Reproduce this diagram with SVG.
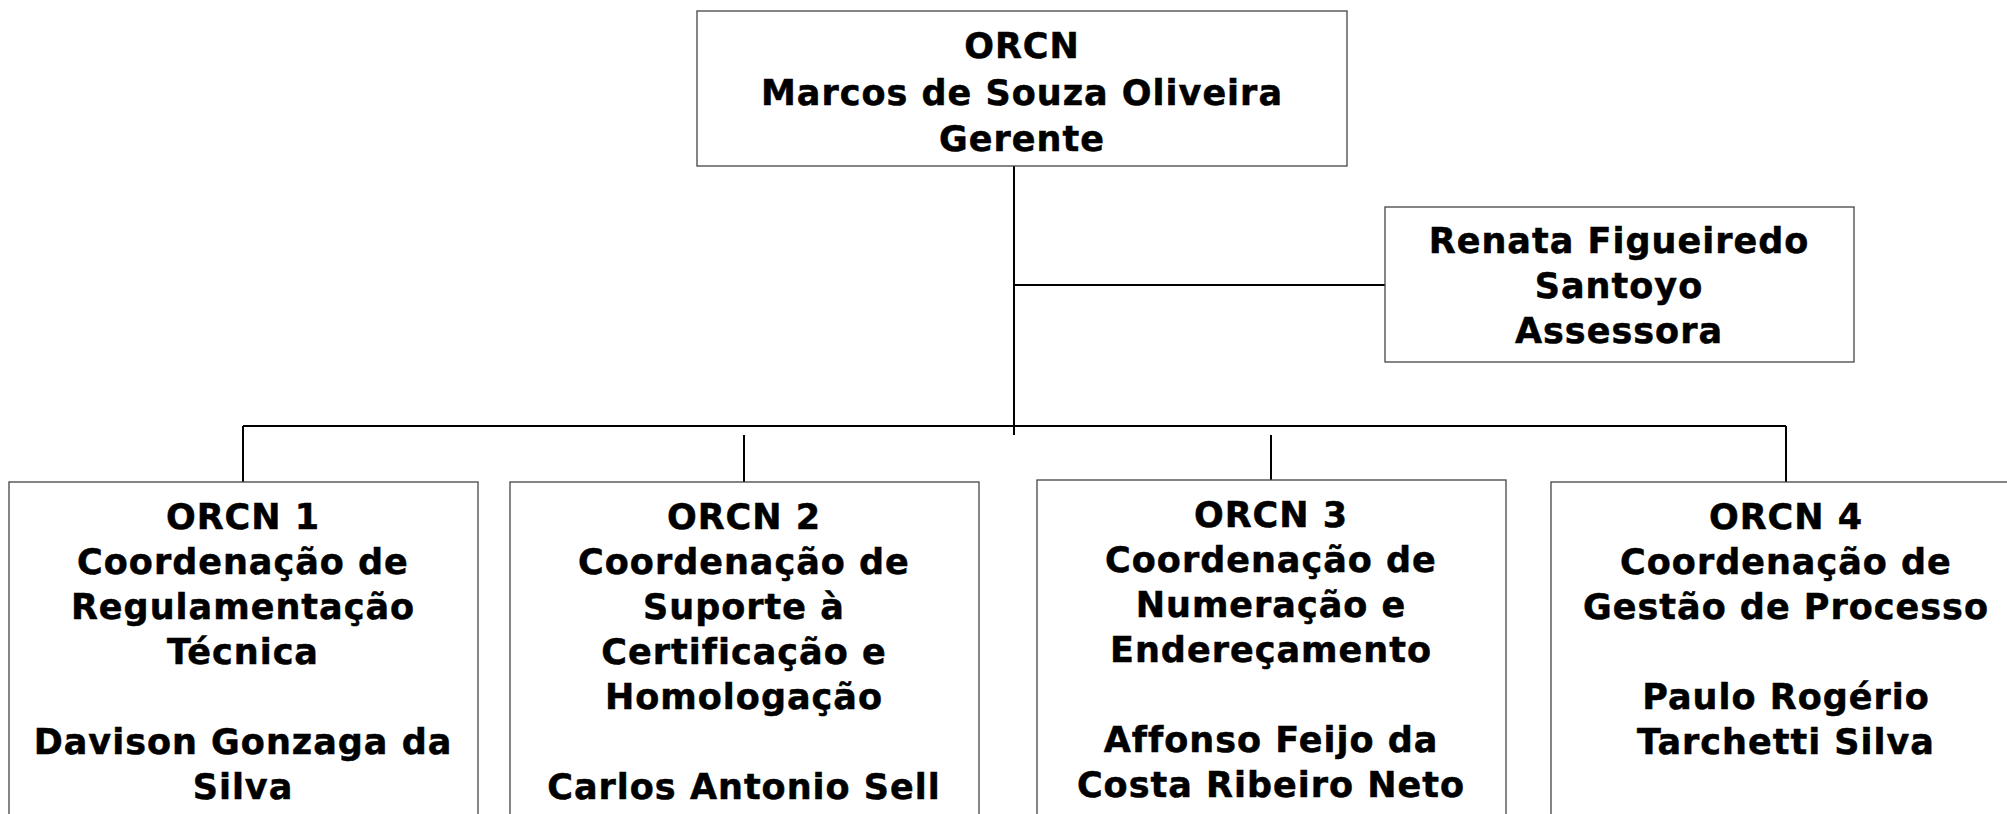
<svg xmlns="http://www.w3.org/2000/svg" width="2007" height="814" viewBox="0 0 2007 814">
<style>
.box{fill:#fff;stroke:#444;stroke-width:1.3}
.t{font-family:"DejaVu Sans",Verdana,sans-serif;font-weight:bold;font-size:35px;letter-spacing:1px;text-anchor:middle;fill:#000;stroke:#000;stroke-width:0.5}
.c{stroke:#000;stroke-width:2;fill:none}
</style>
<rect width="2007" height="814" fill="#fff"/>
<g id="connectors">
<line class="c" x1="1014" y1="166" x2="1014" y2="435"/>
<line class="c" x1="1014" y1="285" x2="1385" y2="285"/>
<line class="c" x1="243" y1="426" x2="1786" y2="426"/>
<line class="c" x1="243" y1="426" x2="243" y2="482"/>
<line class="c" x1="744" y1="435" x2="744" y2="482"/>
<line class="c" x1="1271" y1="435" x2="1271" y2="480"/>
<line class="c" x1="1786" y1="426" x2="1786" y2="482"/>
</g>
<g id="orcn">
<rect class="box" x="697" y="11" width="650" height="155"/>
<text class="t" x="1022" y="58">ORCN</text>
<text class="t" x="1022" y="105">Marcos de Souza Oliveira</text>
<text class="t" x="1022" y="151">Gerente</text>
</g>
<g id="assessora">
<rect class="box" x="1385" y="207" width="469" height="155"/>
<text class="t" x="1619" y="253">Renata Figueiredo</text>
<text class="t" x="1619" y="298">Santoyo</text>
<text class="t" x="1619" y="343">Assessora</text>
</g>
<g id="orcn1">
<rect class="box" x="9" y="482" width="469" height="340"/>
<text class="t" x="243" y="529">ORCN 1</text>
<text class="t" x="243" y="574">Coordenação de</text>
<text class="t" x="243" y="619">Regulamentação</text>
<text class="t" x="243" y="664">Técnica</text>
<text class="t" x="243" y="754">Davison Gonzaga da</text>
<text class="t" x="243" y="799">Silva</text>
</g>
<g id="orcn2">
<rect class="box" x="510" y="482" width="469" height="340"/>
<text class="t" x="744" y="529">ORCN 2</text>
<text class="t" x="744" y="574">Coordenação de</text>
<text class="t" x="744" y="619">Suporte à</text>
<text class="t" x="744" y="664">Certificação e</text>
<text class="t" x="744" y="709">Homologação</text>
<text class="t" x="744" y="799">Carlos Antonio Sell</text>
</g>
<g id="orcn3">
<rect class="box" x="1037" y="480" width="469" height="340"/>
<text class="t" x="1271" y="527">ORCN 3</text>
<text class="t" x="1271" y="572">Coordenação de</text>
<text class="t" x="1271" y="617">Numeração e</text>
<text class="t" x="1271" y="662">Endereçamento</text>
<text class="t" x="1271" y="752">Affonso Feijo da</text>
<text class="t" x="1271" y="797">Costa Ribeiro Neto</text>
</g>
<g id="orcn4">
<rect class="box" x="1551" y="482" width="469" height="340"/>
<text class="t" x="1786" y="529">ORCN 4</text>
<text class="t" x="1786" y="574">Coordenação de</text>
<text class="t" x="1786" y="619">Gestão de Processo</text>
<text class="t" x="1786" y="709">Paulo Rogério</text>
<text class="t" x="1786" y="754">Tarchetti Silva</text>
</g>
</svg>
